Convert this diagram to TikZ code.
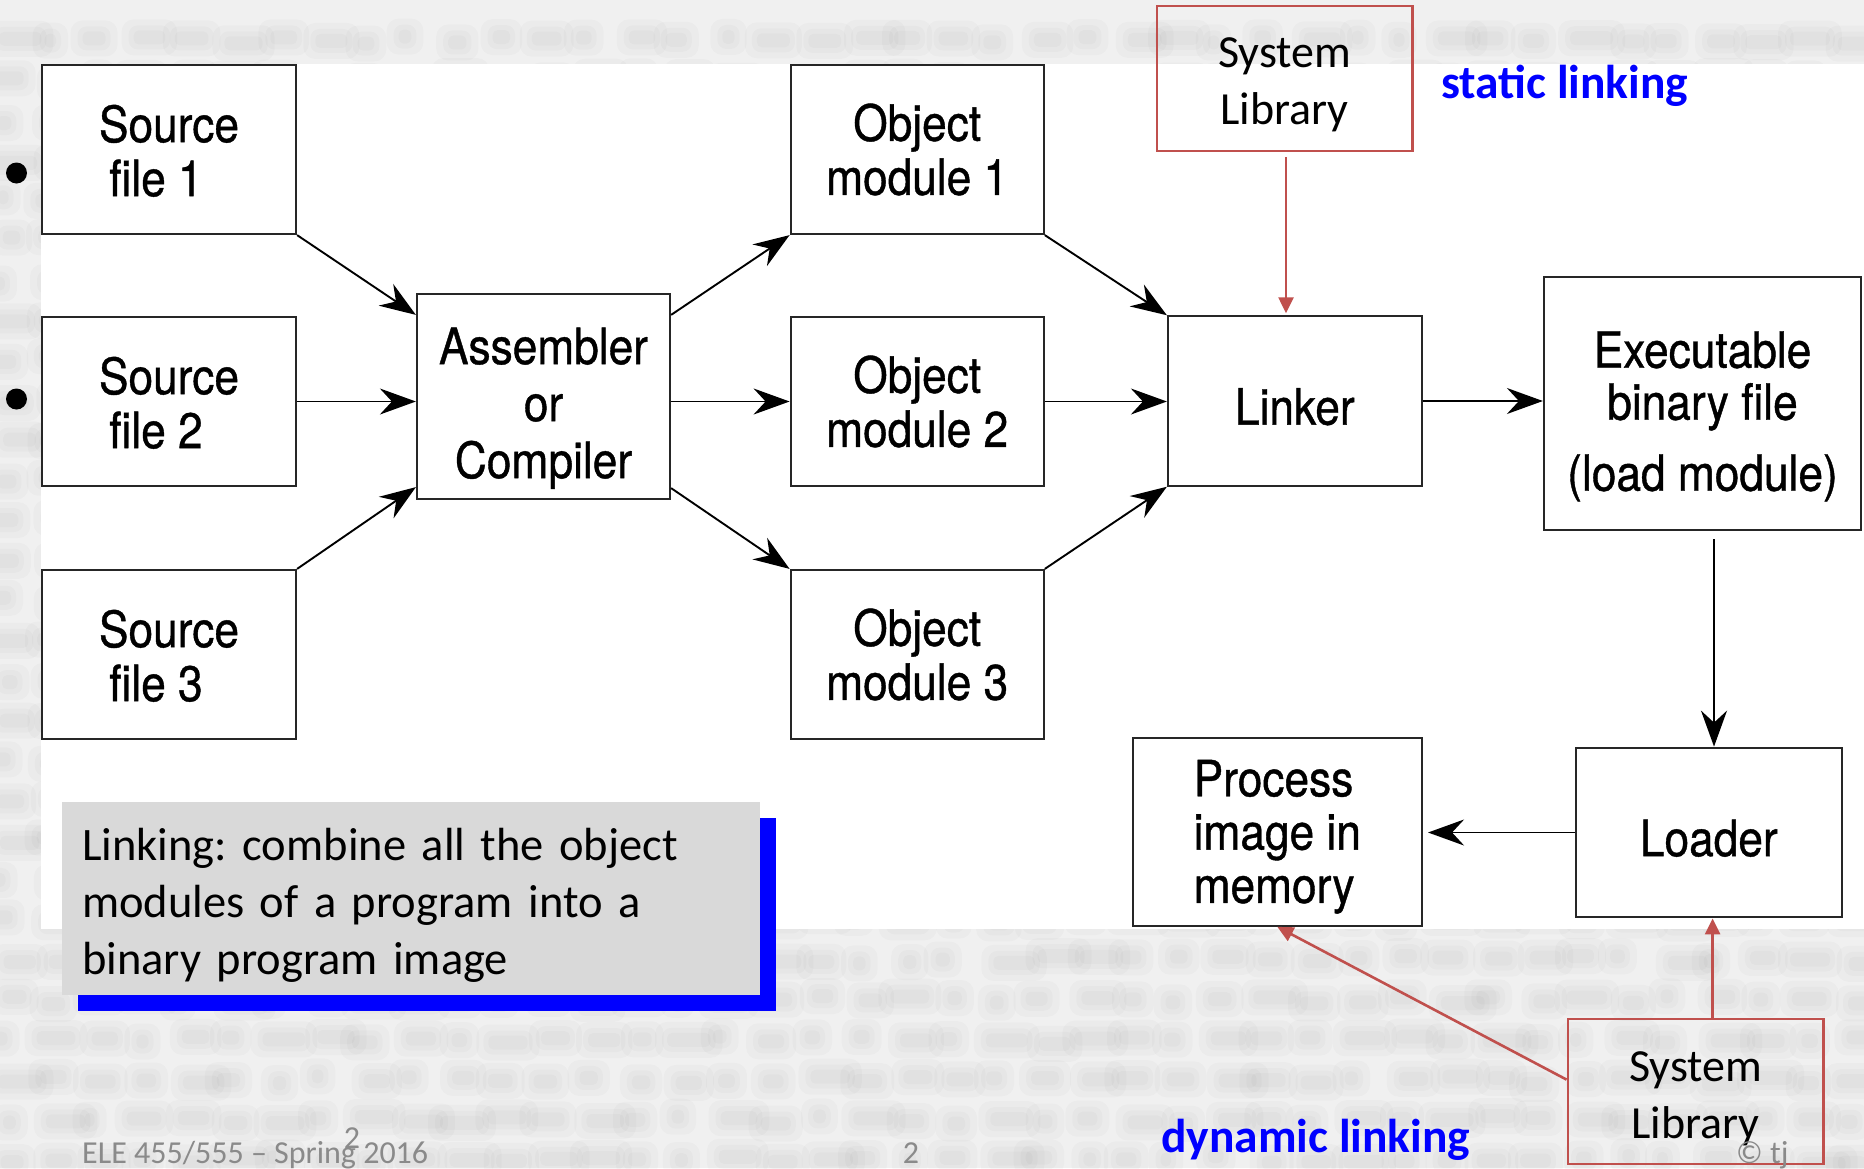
\documentclass[tikz,border=0pt]{standalone}
\usepackage{fontspec}
\usetikzlibrary{arrows.meta,calc,shadows}
\newfontfamily\figfont[FakeStretch=0.885,FakeBold=0.8]{TeX Gyre Heros}
\newfontfamily\slidefont{Carlito}
\definecolor{libred}{HTML}{C0504D}
\definecolor{notegray}{HTML}{D9D9D9}
\definecolor{footgray}{HTML}{8A8A8A}
\definecolor{pagegray}{HTML}{F0F0F0}
% invisible strut that sets the height of a first text line
\newcommand\padtop[1]{\rule{0pt}{#1}}

\begin{document}
\begin{tikzpicture}[x=1pt,y=-1pt,
  stage/.style={draw=black!85, line width=2.2pt, fill=white, inner sep=0pt,
    align=center, font=\figfont\fontsize{50}{54}\selectfont},
  flow/.style={line width=1.9pt, -{Stealth[length=36pt,width=26pt,inset=12pt]}},
  libbox/.style={draw=libred, line width=2.6pt, inner sep=0pt, align=center,
    minimum width=255.5pt, minimum height=145pt,
    font=\slidefont\fontsize{46}{57}\selectfont},
  libflow/.style={draw=libred, line width=2.6pt, -{Triangle[length=16pt,width=15pt]}},
  tag/.style={anchor=base west, inner sep=0pt, text=blue,
    font=\slidefont\bfseries\fontsize{47.5}{57}\selectfont},
  foot/.style={inner sep=0pt, text=footgray, font=\slidefont\fontsize{32}{38}\selectfont},
  dot/.style={circle, fill=black, inner sep=0pt, minimum size=21pt},
  haze/.style={fill=black, opacity=0.02}
]
\useasboundingbox (0,0) rectangle (1864,1168);

% blurred printed page behind the figure
\fill[pagegray] (0,0) rectangle (1864,1168);
\pgfmathsetseed{11}
\foreach \ry in {40,80,...,1160}{
  \foreach \k in {0,...,41}{
    \pgfmathsetmacro\bx{\k*45-10+14*rnd}
    \pgfmathsetmacro\bw{10+34*rnd}
    \pgfmathsetmacro\by{\ry-4+8*rnd}
    \fill[haze, rounded corners=12pt] (\bx-12,\by-18) rectangle (\bx+\bw+12,\by+18);
    \fill[haze, rounded corners=9pt] (\bx-5,\by-12) rectangle (\bx+\bw+5,\by+12);
    \fill[haze, rounded corners=5pt] (\bx,\by-7) rectangle (\bx+\bw,\by+7);
  }
}
% white figure panel
\fill[white] (41,64) rectangle (1864,929);

% bullets
\node[dot] (b1) at (16.5,173) {};
\node[dot] (b2) at (16.5,399) {};

% translation stage
\node[stage, minimum width=254pt, minimum height=169pt] (sf1) at (169,149.5) {\padtop{40pt}Source\\file 1\hspace*{26pt}};
\node[stage, minimum width=254pt, minimum height=169pt] (sf2) at (169,401.5) {\padtop{40pt}Source\\file 2\hspace*{26pt}};
\node[stage, minimum width=254pt, minimum height=169pt] (sf3) at (169,654.5) {\padtop{40pt}Source\\file 3\hspace*{26pt}};
\node[stage, minimum width=253pt, minimum height=205pt,
  font=\figfont\fontsize{50}{57}\selectfont] (asm) at (543.5,396.5) {\padtop{60pt}Assembler\\or\\Compiler};
\node[stage, minimum width=253pt, minimum height=169pt] (obj1) at (917.2,149.5) {Object\\module 1};
\node[stage, minimum width=253pt, minimum height=169pt] (obj2) at (917.2,401.5) {Object\\module 2};
\node[stage, minimum width=253pt, minimum height=169pt] (obj3) at (917.2,654.5) {Object\\module 3};

% linking and loading
\node[stage, minimum width=253.6pt, minimum height=169.3pt] (linker) at (1294.8,401) {\padtop{48pt}Linker};
\node[stage, minimum width=317pt, minimum height=253pt,
  font=\figfont\fontsize{50}{52}\selectfont] (exec) at (1702.5,403.5) {\padtop{62pt}Executable\\binary file\\[19pt](load module)};
\node[stage, minimum width=265.7pt, minimum height=169.6pt] (loader) at (1708.8,832.5) {\padtop{48pt}Loader};
\node[stage, minimum width=289.3pt, minimum height=187.4pt, align=left,
  font=\figfont\fontsize{50}{53.3}\selectfont] (process) at (1277.3,832) {\padtop{46pt}Process\\image in\\memory};

% system libraries
\node[libbox] (libA) at (1284.7,78.6) {\padtop{42pt}System\\Library};
\node[libbox] (libB) at (1695.6,1091.6) {\padtop{44pt}System\\Library};

% black flow arrows
\draw[flow] (sf1.south east) -- ([yshift=-22pt]asm.north west);
\draw[flow] (sf2.east) -- (sf2.east -| asm.west);
\draw[flow] (sf3.north east) -- ([yshift=13pt]asm.south west);
\draw[flow] ([yshift=-22pt]asm.north east) -- (obj1.south west);
\draw[flow] (obj2.west -| asm.east) -- (obj2.west);
\draw[flow] ([yshift=12pt]asm.south east) -- (obj3.north west);
\draw[flow] (obj1.south east) -- (linker.north west);
\draw[flow] (obj2.east) -- (obj2.east -| linker.west);
\draw[flow] (obj3.north east) -- (linker.south west);
\draw[flow] (linker.east) -- (linker.east -| exec.west);
\draw[flow] ([xshift=11.5pt,yshift=-8pt]exec.south) -- ([xshift=11.5pt]exec.south |- loader.north);
\draw[flow] (loader.west) -- ([xshift=5pt]loader.west -| process.east);

% red library arrows
\draw[libflow] ([xshift=1.3pt,yshift=-5pt]libA.south) -- ([xshift=1.3pt,yshift=2pt]libA.south |- linker.north);
\draw[libflow] ([xshift=17pt]libB.north) -- ([xshift=17pt]libB.north |- loader.south);
\draw[libflow] ([yshift=12pt]libB.west) -- (process.south);

% labels
\node[tag] (statictag) at (1441,98) {static linking};
\node[tag] (dyntag) at (1161,1152) {dynamic linking};

% note box with blue shadow
\node[fill=notegray, minimum width=698pt, minimum height=193pt, text width=658pt,
  inner xsep=20pt, inner ysep=0pt, align=left,
  font=\slidefont\fontsize{46.5}{56.7}\selectfont\frenchspacing,
  drop shadow={shadow xshift=15.5pt, shadow yshift=-15.5pt, fill=blue, opacity=1}]
  (note) at (411,898.5) {\padtop{46pt}Linking: combine all the object\\modules of a program into a\\binary program image};

% footer
\node[foot, anchor=base west] (footer) at (82,1163) {ELE 455/555 – Spring 2016};
\node[foot, anchor=base] (slidenum) at (352,1148) {2};
\node[foot, anchor=base] (pagenum) at (911,1163) {2};
\node[foot, anchor=base west] (copyr) at (1736,1163) {© tj};
\end{tikzpicture}
\end{document}
